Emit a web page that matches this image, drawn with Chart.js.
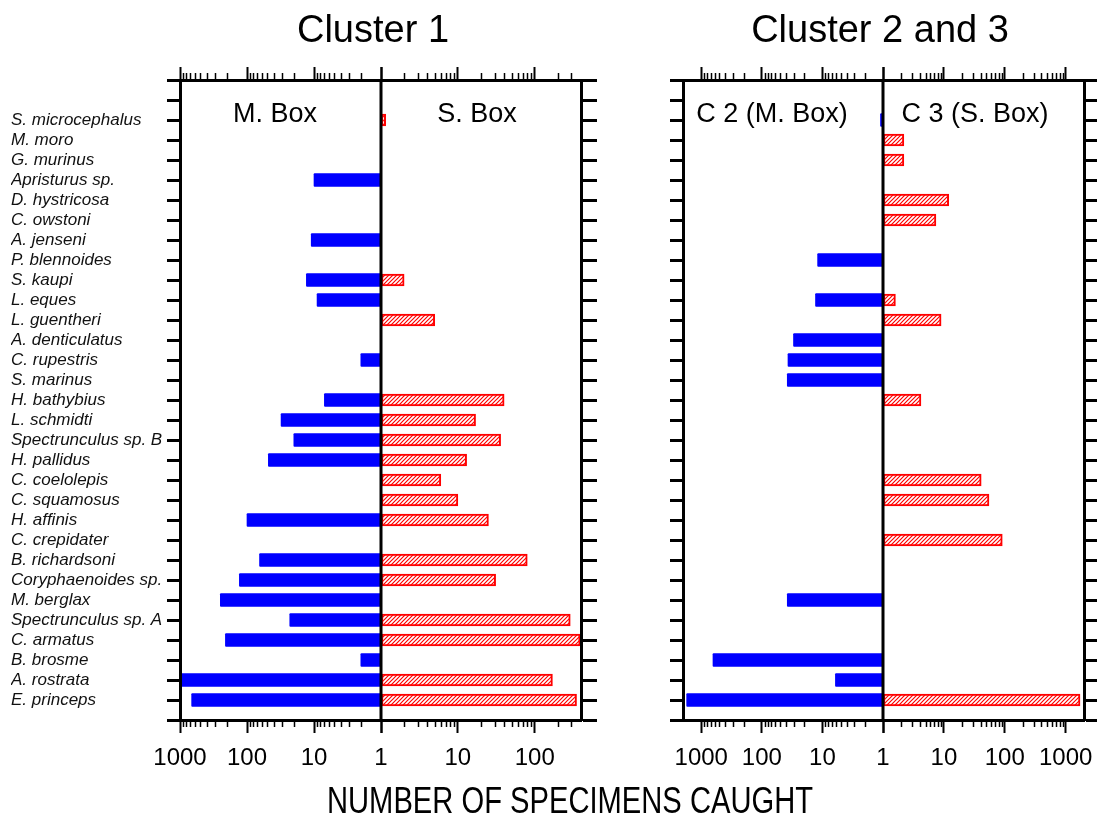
<!DOCTYPE html>
<html>
<head>
<meta charset="utf-8">
<script src="https://cdn.jsdelivr.net/npm/chart.js@4.4.0/dist/chart.umd.min.js"></script>
<style>
  html, body { margin: 0; padding: 0; background: #fff; }
  #wrap { position: relative; width: 1097px; height: 818px; overflow: hidden; font-family: 'Liberation Sans', Arial, sans-serif; color: #000; }
  #wrap canvas { position: absolute; left: 0; top: 0; }
  .txt { position: absolute; white-space: nowrap; line-height: 1; transform: translate(-50%, -50%); }
</style>
</head>
<body>
<div id="wrap">
  <canvas id="c1" width="1097" height="818"></canvas>
  <canvas id="c2" width="1097" height="818"></canvas>
  <canvas id="c3" width="1097" height="818"></canvas>
  <canvas id="c4" width="1140" height="818"></canvas>

  <div class="txt" style="left:373px; top:29px; font-size:38px;">Cluster 1</div>
  <div class="txt" style="left:880px; top:29px; font-size:38px;">Cluster 2 and 3</div>
  <div class="txt" style="left:275px; top:113px; font-size:27px;">M. Box</div>
  <div class="txt" style="left:477px; top:113px; font-size:27px;">S. Box</div>
  <div class="txt" style="left:772px; top:113px; font-size:27px;">C 2 (M. Box)</div>
  <div class="txt" style="left:975px; top:113px; font-size:27px;">C 3 (S. Box)</div>
  <div class="txt" style="left:570px; top:801px; font-size:36px; transform: translate(-50%, -50%) scaleX(0.81);">NUMBER OF SPECIMENS CAUGHT</div>
</div>

<script>
// species, top to bottom
const species = [
  'S. microcephalus', 'M. moro', 'G. murinus', 'Apristurus sp.', 'D. hystricosa',
  'C. owstoni', 'A. jenseni', 'P. blennoides', 'S. kaupi', 'L. eques',
  'L. guentheri', 'A. denticulatus', 'C. rupestris', 'S. marinus', 'H. bathybius',
  'L. schmidti', 'Spectrunculus sp. B', 'H. pallidus', 'C. coelolepis', 'C. squamosus',
  'H. affinis', 'C. crepidater', 'B. richardsoni', 'Coryphaenoides sp.', 'M. berglax',
  'Spectrunculus sp. A', 'C. armatus', 'B. brosme', 'A. rostrata', 'E. princeps'
];

// Cluster 1, M. Box (blue, drawn to the left)
const c1MBox = [null, null, null, 10, null, null, 11, null, 13, 9,
  null, null, 2, null, 7, 31, 20, 48, null, null,
  100, null, 65, 130, 250, 23, 210, 2, 960, 670];

// Cluster 1, S. Box (red hatched, to the right)
const c1SBox = [1.15, null, null, null, null, null, null, null, 2, null,
  5, null, null, null, 40, 17, 36, 13, 6, 10,
  25, null, 80, 31, null, 290, 390, null, 170, 350];

// Cluster 2 (M. Box)
const c2MBox = [1.1, null, null, null, null, null, null, 12, null, 13,
  null, 30, 37, 38, null, null, null, null, null, null,
  null, null, null, null, 38, null, null, 640, 6.1, 1740];

// Cluster 3 (S. Box)
const c3SBox = [null, 2.2, 2.2, null, 12, 7.4, null, null, null, 1.6,
  9, null, null, null, 4.2, null, null, null, 41, 55,
  null, 91, null, null, null, null, null, null, null, 1720];

const majorTicks = [1, 10, 100, 1000];

const FONT = "'Liberation Sans', Arial, sans-serif";
Chart.defaults.font.family = FONT;
Chart.defaults.color = '#000';

// two empty rows on top, one at the bottom, so the ticks line up with the frame
const rowLabels = ['', ''].concat(species, ['']);
function pad(arr) { return [null, null].concat(arr, [null]); }

function makeHatch() {
  const c = document.createElement('canvas');
  c.width = 4; c.height = 4;
  const g = c.getContext('2d');
  g.fillStyle = '#fff';
  g.fillRect(0, 0, 4, 4);
  g.strokeStyle = '#ff0000';
  g.lineWidth = 1.2;
  g.beginPath();
  g.moveTo(0, 4); g.lineTo(4, 0);
  g.moveTo(-1, 1); g.lineTo(1, -1);
  g.moveTo(3, 5); g.lineTo(5, 3);
  g.stroke();
  return g.createPattern(c, 'repeat');
}
const hatch = makeHatch();

// short minor ticks (2..9 of each decade), top and bottom
const minorTicks = {
  id: 'minorTicks',
  afterDraw(chart) {
    const ctx = chart.ctx;
    ctx.save();
    ctx.strokeStyle = '#000';
    ctx.lineWidth = 1.5;
    ['x', 'xTop'].forEach(id => {
      const s = chart.scales[id];
      for (let k = 0; k < 4; k++) {
        for (let m = 2; m <= 9; m++) {
          const v = m * Math.pow(10, k);
          if (v <= s.min || v >= s.max) continue;
          const px = Math.round(s.getPixelForValue(v)) + 0.5;
          ctx.beginPath();
          if (s.position === 'bottom') { ctx.moveTo(px, s.top); ctx.lineTo(px, s.top + 7); }
          else { ctx.moveTo(px, s.bottom); ctx.lineTo(px, s.bottom - 7); }
          ctx.stroke();
        }
      }
    });
    ctx.restore();
  }
};

// the thick line through "1"
const centerLine = {
  id: 'centerLine',
  afterDraw(chart) {
    const a = chart.chartArea, ctx = chart.ctx;
    ctx.save();
    ctx.strokeStyle = '#000';
    ctx.lineWidth = 3;
    ctx.beginPath();
    ctx.moveTo(a.left, a.top - 1);
    ctx.lineTo(a.left, a.bottom + 1);
    ctx.stroke();
    ctx.restore();
  }
};

function xAxis(pos, max, reverse, showOne) {
  return {
    type: 'logarithmic',
    position: pos,
    min: 1,
    max: max,
    reverse: reverse,
    afterBuildTicks: s => { s.ticks = majorTicks.filter(v => v <= max).map(v => ({ value: v })); },
    afterFit: s => { s.height = pos === 'bottom' ? 60 : 13; },
    grid: { drawOnChartArea: false, drawTicks: true, tickLength: 13, tickWidth: 2, tickColor: '#000' },
    border: { display: true, width: 3, color: '#000', z: 1 },
    ticks: {
      display: pos === 'bottom',
      autoSkip: false,
      maxRotation: 0,
      padding: 11,
      color: '#000',
      font: { family: FONT, size: 24 },
      callback: v => (v === 1 && !showOne) ? '' : String(v)
    }
  };
}

function yAxis(pos, withLabels, width, tick) {
  return {
    type: 'category',
    labels: rowLabels,
    position: pos,
    offset: false,
    afterFit: s => { s.width = width; },
    grid: { drawOnChartArea: false, offset: false, drawTicks: true, tickLength: tick, tickWidth: 3, tickColor: '#000' },
    border: { display: true, width: 3, color: '#000', z: 1 },
    ticks: {
      display: withLabels,
      autoSkip: false,
      crossAlign: 'far',
      padding: 0,
      color: '#111',
      font: { family: FONT, size: 17, style: 'italic' }
    }
  };
}

function blueSet(vals) {
  return { data: pad(vals), base: 1, backgroundColor: '#0000ff', borderWidth: 0, borderRadius: 1, barThickness: 13 };
}
function redSet(vals) {
  return { data: pad(vals), base: 1, backgroundColor: hatch, borderColor: '#ff0000', borderWidth: 2, borderSkipped: false, barThickness: 12 };
}

function half(id, dataset, yPos, withLabels, yWidth, yTick, max, reverse, showOne, padding, plugins) {
  return new Chart(document.getElementById(id), {
    type: 'bar',
    data: { labels: rowLabels, datasets: [dataset] },
    options: {
      indexAxis: 'y',
      responsive: false,
      animation: false,
      devicePixelRatio: 1,
      layout: { padding: padding },
      plugins: { legend: { display: false }, tooltip: { enabled: false } },
      scales: {
        x: xAxis('bottom', max, reverse, showOne),
        xTop: xAxis('top', max, reverse, showOne),
        y: yAxis(yPos, withLabels, yWidth, yTick)
      }
    },
    plugins: plugins
  });
}

// Cluster 1: frame 180..581, centre 381
half('c1', blueSet(c1MBox), 'left', true, 169, 13, 1000, true, true,
  { left: 11, right: 716, top: 67, bottom: 38 }, [minorTicks]);
half('c2', redSet(c1SBox), 'right', false, 16, 16, 400, false, false,
  { left: 381, right: 500, top: 67, bottom: 38 }, [minorTicks, centerLine]);

// Cluster 2 and 3: frame 683..1084, centre 883 (last canvas is wider so the "1000" label has room)
half('c3', blueSet(c2MBox), 'left', false, 13, 13, 2000, true, true,
  { left: 670, right: 214, top: 67, bottom: 38 }, [minorTicks]);
half('c4', redSet(c3SBox), 'right', false, 13, 13, 2000, false, false,
  { left: 883, right: 43, top: 67, bottom: 38 }, [minorTicks, centerLine]);
</script>
</body>
</html>
